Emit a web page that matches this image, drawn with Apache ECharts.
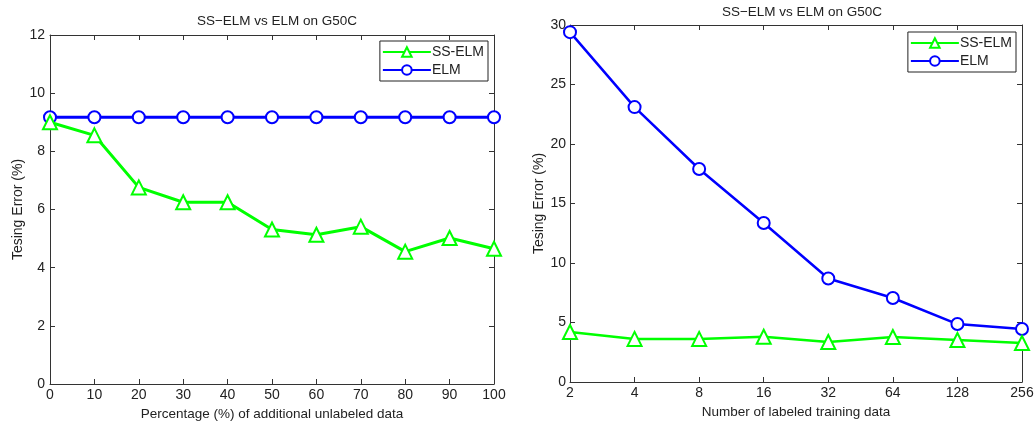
<!DOCTYPE html>
<html>
<head>
<meta charset="utf-8">
<script src="https://cdn.jsdelivr.net/npm/echarts@6/dist/echarts.min.js"></script>
<style>
  html, body { margin: 0; padding: 0; background: #fff; }
  #chart { width: 1034px; height: 421px; }
</style>
</head>
<body>
<div id="chart"></div>
<script>
// Left panel: error vs. percentage of additional unlabeled data
const pctUnlabeled = [0, 10, 20, 30, 40, 50, 60, 70, 80, 90, 100];
const ssElmByPct = [9.0, 8.55, 6.76, 6.25, 6.25, 5.31, 5.13, 5.41, 4.55, 5.02, 4.65];
const elmByPct = [9.17, 9.17, 9.17, 9.17, 9.17, 9.17, 9.17, 9.17, 9.17, 9.17, 9.17];

// Right panel: error vs. number of labeled training samples
const labeledCounts = ['2', '4', '8', '16', '32', '64', '128', '256'];
const ssElmByLabeled = [4.2, 3.62, 3.62, 3.8, 3.36, 3.78, 3.53, 3.28];
const elmByLabeled = [29.4, 23.1, 17.9, 13.36, 8.7, 7.06, 4.87, 4.45];

const panelTitle = 'SS\u2212ELM vs ELM on G50C';
const yName = 'Tesing Error (%)';
const GREEN = '#00ff00';
const BLUE = '#0000ff';
const FONT = 'Liberation Sans, Arial, sans-serif';
const TXT = '#222';

const chart = echarts.init(document.getElementById('chart'), null, { renderer: 'canvas' });

const axisLine = { show: true, onZero: false, lineStyle: { color: '#333', width: 1 } };
const tickIn = { show: true, inside: true, length: 5, lineStyle: { color: '#333' } };
const lbl = { color: TXT, fontFamily: FONT, fontSize: 14 };

// Tick-only copies of the axes on the opposite sides, closing the plot box
function mirrorX(gridIndex, base) {
  return Object.assign({}, base, {
    gridIndex, position: 'top', axisLabel: { show: false }, name: '',
    axisLine, axisTick: Object.assign({ alignWithLabel: true }, tickIn), splitLine: { show: false }
  });
}
function mirrorY(gridIndex, base) {
  return Object.assign({}, base, {
    gridIndex, position: 'right', axisLabel: { show: false }, name: '',
    axisLine, axisTick: tickIn, splitLine: { show: false }
  });
}

const leftX = { type: 'value', min: 0, max: 100, interval: 10 };
const leftY = { type: 'value', min: 0, max: 12, interval: 2 };
const rightX = { type: 'category', data: labeledCounts, boundaryGap: false };
const rightY = { type: 'value', min: 0, max: 30, interval: 5 };

const lineSeries = (name, xi, yi, data, color, symbol, size, width) => ({
  name, type: 'line', xAxisIndex: xi, yAxisIndex: yi, data,
  symbol, symbolSize: size, showSymbol: true,
  lineStyle: { color, width },
  itemStyle: { color, borderColor: color, borderWidth: width },
  emphasis: { disabled: true },
  animation: false, z: name === 'ELM' ? 3 : 4
});

const legendCommon = {
  orient: 'vertical',
  backgroundColor: '#fff',
  borderColor: '#222',
  borderWidth: 1,
  borderRadius: 0,
  padding: [4, 4, 4, 2],
  itemGap: 4,
  itemWidth: 48,
  itemHeight: 12,
  textStyle: { color: TXT, fontFamily: FONT, fontSize: 14, padding: [0, 0, 0, -4] },
  data: ['SS-ELM', 'ELM']
};

chart.setOption({
  animation: false,
  backgroundColor: '#fff',
  title: [
    { text: panelTitle, left: 272, top: 9, textAlign: 'center',
      textStyle: { color: TXT, fontFamily: FONT, fontSize: 13.5, fontWeight: 'normal' } },
    { text: panelTitle, left: 797, top: 0, textAlign: 'center',
      textStyle: { color: TXT, fontFamily: FONT, fontSize: 13.5, fontWeight: 'normal' } }
  ],
  legend: [
    Object.assign({}, legendCommon, { right: 546, top: 41 }),
    Object.assign({}, legendCommon, { right: 18, top: 32 })
  ],
  grid: [
    { left: 50, right: 540, top: 35, bottom: 37, outerBoundsMode: 'none' },
    { left: 570, right: 12, top: 25, bottom: 39, outerBoundsMode: 'none' }
  ],
  xAxis: [
    Object.assign({}, leftX, {
      gridIndex: 0, position: 'bottom',
      name: 'Percentage (%) of additional unlabeled data',
      nameLocation: 'middle', nameGap: 22,
      nameTextStyle: { color: TXT, fontFamily: FONT, fontSize: 13.5, verticalAlign: 'top' },
      axisLine, axisTick: tickIn, axisLabel: Object.assign({ margin: 4 }, lbl),
      splitLine: { show: false }
    }),
    mirrorX(0, leftX),
    Object.assign({}, rightX, {
      gridIndex: 1, position: 'bottom',
      name: 'Number of labeled training data',
      nameLocation: 'middle', nameGap: 22,
      nameTextStyle: { color: TXT, fontFamily: FONT, fontSize: 13.5, verticalAlign: 'top' },
      axisLine, axisTick: Object.assign({ alignWithLabel: true }, tickIn),
      axisLabel: Object.assign({ margin: 4, interval: 0 }, lbl),
      splitLine: { show: false }
    }),
    mirrorX(1, rightX)
  ],
  yAxis: [
    Object.assign({}, leftY, {
      gridIndex: 0, position: 'left',
      name: yName, nameLocation: 'middle', nameGap: 24,
      nameTextStyle: { color: TXT, fontFamily: FONT, fontSize: 14 },
      axisLine, axisTick: tickIn, axisLabel: Object.assign({ margin: 5 }, lbl),
      splitLine: { show: false }
    }),
    mirrorY(0, leftY),
    Object.assign({}, rightY, {
      gridIndex: 1, position: 'left',
      name: yName, nameLocation: 'middle', nameGap: 24,
      nameTextStyle: { color: TXT, fontFamily: FONT, fontSize: 14 },
      axisLine, axisTick: tickIn, axisLabel: Object.assign({ margin: 4 }, lbl),
      splitLine: { show: false }
    }),
    mirrorY(1, rightY)
  ],
  series: [
    lineSeries('SS-ELM', 0, 0, pctUnlabeled.map((x, i) => [x, ssElmByPct[i]]), GREEN, 'emptyTriangle', 14, 3),
    lineSeries('ELM', 0, 0, pctUnlabeled.map((x, i) => [x, elmByPct[i]]), BLUE, 'emptyCircle', 12, 3),
    lineSeries('SS-ELM', 2, 2, ssElmByLabeled, GREEN, 'emptyTriangle', 14, 2.5),
    lineSeries('ELM', 2, 2, elmByLabeled, BLUE, 'emptyCircle', 12, 2.5)
  ]
});
</script>
</body>
</html>
